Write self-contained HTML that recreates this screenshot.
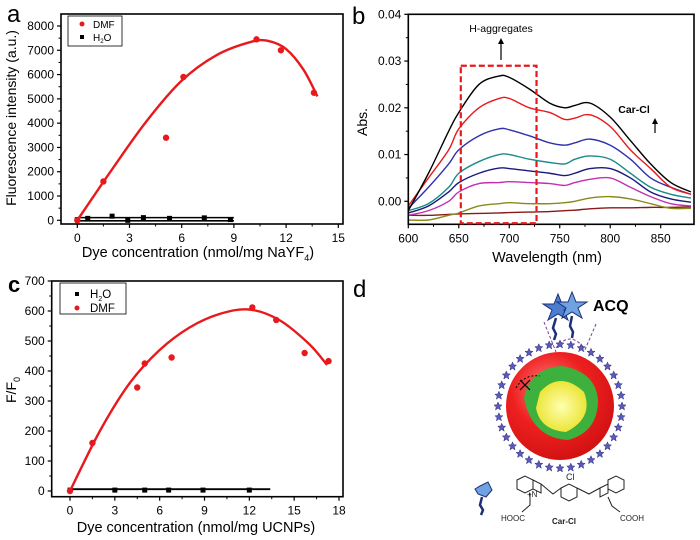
<!DOCTYPE html>
<html><head><meta charset="utf-8"><style>
html,body{margin:0;padding:0;background:#fff;}
svg{display:block;font-family:"Liberation Sans",Arial,sans-serif;}
</style></head><body>
<svg id="fig" width="700" height="540" viewBox="0 0 700 540" xmlns="http://www.w3.org/2000/svg">
<g id="pa"></g>
<g id="pb"></g>
<g id="pc"></g>
<g id="pd">
  <text x="353" y="297" font-size="24">d</text>
  <!-- ACQ stars -->
  <polygon points="558,294 562,304 573,304 564,310 568,320 558,314 548,320 552,310 543,304 554,304" fill="#4a7fd0" stroke="#1d2f7a" stroke-width="1"/>
  <polygon points="572,292 576,302 587,302 578,308 582,318 572,312 562,318 566,308 557,302 568,302" fill="#6ea2e0" stroke="#1d2f7a" stroke-width="1"/>
  <path d="M556,318 l-3,10 l3,6 l-2,6 M572,316 l-2,10 l3,6 l-1,6" stroke="#1d2f7a" stroke-width="2.5" fill="none"/>
  <text x="593" y="311" font-size="16" font-weight="bold">ACQ</text>
  <path d="M544,322 L556,352 M596,324 L584,352 M556,348 Q570,330 584,348" stroke="#7a3fa0" stroke-width="1" stroke-dasharray="3,2" fill="none"/>
  <g id="starring"></g>
  <defs>
    <radialGradient id="rg" cx="0.4" cy="0.35" r="0.7"><stop offset="0" stop-color="#ff8080"/><stop offset="0.5" stop-color="#ee2020"/><stop offset="1" stop-color="#d01010"/></radialGradient>
    <radialGradient id="yg" cx="0.5" cy="0.5" r="0.6"><stop offset="0" stop-color="#ffffb0"/><stop offset="1" stop-color="#e8e020"/></radialGradient>
  </defs>
  <circle cx="560" cy="406" r="54" fill="url(#rg)"/>
  <path d="M524,398 Q530,368 562,366 Q596,372 598,400 Q598,432 568,440 Q532,438 524,398 Z" fill="#3db03d"/>
  <path d="M540,392 Q560,370 584,392 Q594,418 566,432 Q540,430 536,408 Z" fill="url(#yg)"/>
  <path d="M520,380 l10,10 M530,380 l-10,10" stroke="#000" stroke-width="1.2"/>
  <path d="M516,388 Q524,374 540,376" stroke="#000" stroke-dasharray="2,2" fill="none"/>
  <!-- molecule -->
  <polygon points="480,486 488,482 492,490 486,497 478,494 475,489" fill="#6ea2e0" stroke="#1d2f7a"/>
  <path d="M482,497 l-2,8 l3,5 l-2,5" stroke="#1d2f7a" stroke-width="2.5" fill="none"/>
  <g stroke="#222" stroke-width="1" fill="none">
    <polygon points="517,480 525,476 533,480 533,489 525,493 517,489"/>
    <polygon points="533,480 541,484 541,493 533,489"/>
    <path d="M541,484 L553,494 L561,488"/>
    <polygon points="561,488 569,484 577,488 577,497 569,501 561,497"/>
    <path d="M577,488 L589,494 L600,488"/>
    <polygon points="600,488 608,484 608,493 600,497"/>
    <polygon points="608,480 616,476 624,480 624,489 616,493 608,489"/>
    <path d="M530,493 L530,505 L522,512 M608,497 L612,506 L620,512"/>
  </g>
  <text x="566" y="480" font-size="9" fill="#222">Cl</text>
  <text x="527" y="497" font-size="8" fill="#222">+N</text>
  <text x="501" y="521" font-size="8" fill="#222">HOOC</text>
  <text x="552" y="524" font-size="8" font-weight="bold" fill="#222">Car-Cl</text>
  <text x="620" y="521" font-size="8" fill="#222">COOH</text>
</g>
</svg>
<script>
// ---------- Panel a data ----------
const aDmfX = [0, 1.5, 5.1, 6.1, 10.3, 11.7, 13.6];
const aDmfY = [0, 1600, 3400, 5900, 7450, 7000, 5250];
const aFitX = [0, 2, 4, 6, 8, 10, 11, 12, 13, 13.8];
const aFitY = [0, 2100, 4100, 5750, 6800, 7350, 7380, 7050, 6200, 5100];
const aH2oX = [0, 0.6, 2, 2.9, 3.8, 5.3, 7.3, 8.8];
const aH2oY = [30, 80, 170, 0, 110, 80, 100, 30];
const aXTicks = [0, 3, 6, 9, 12, 15];
const aYTicks = [0, 1000, 2000, 3000, 4000, 5000, 6000, 7000, 8000];
// ---------- Panel b data ----------
const bWl = [600,620,640,650,670,690,700,720,740,755,765,780,800,820,840,860,880];
const bBlack  = [-0.002,0.006,0.015,0.019,0.025,0.0268,0.0265,0.024,0.021,0.020,0.0205,0.021,0.018,0.013,0.008,0.004,0.002];
const bRed    = [-0.001,0.005,0.011,0.0155,0.020,0.022,0.022,0.020,0.019,0.0175,0.0178,0.0185,0.016,0.011,0.007,0.003,0.0015];
const bBlue   = [-0.0015,0.003,0.008,0.011,0.014,0.0155,0.0153,0.014,0.0125,0.012,0.0125,0.0133,0.012,0.009,0.005,0.003,0.0015];
const bTeal   = [-0.002,-0.0005,0.003,0.006,0.0085,0.010,0.010,0.009,0.0083,0.008,0.009,0.0097,0.009,0.006,0.003,0.0015,0.0007];
const bNavy   = [-0.0025,-0.001,0.002,0.004,0.006,0.0071,0.007,0.0065,0.006,0.0055,0.006,0.007,0.007,0.005,0.002,0.0005,-0.0002];
const bMag    = [-0.003,-0.002,0.000,0.002,0.0038,0.004,0.0042,0.004,0.0038,0.0034,0.004,0.0047,0.005,0.003,0.001,-0.0005,-0.001];
const bOlive  = [-0.004,-0.004,-0.003,-0.0025,-0.001,-0.0005,-0.0003,-0.0005,-0.0005,-0.0003,0.000,0.0007,0.001,0.0005,-0.0005,-0.0015,-0.0015];
const bDkRed  = [-0.003,-0.003,-0.0028,-0.0027,-0.0026,-0.0025,-0.0024,-0.0023,-0.0022,-0.002,-0.0019,-0.0016,-0.0014,-0.0014,-0.0013,-0.0013,-0.0012];
const bXTicks = [600, 650, 700, 750, 800, 850];
const bYTicks = [0.00, 0.01, 0.02, 0.03, 0.04];
const bYLabels = ["0.00","0.01","0.02","0.03","0.04"];
// ---------- Panel c data ----------
const cDmfX = [0, 1.5, 4.5, 5, 6.8, 12.2, 13.8, 15.7, 17.3];
const cDmfY = [0, 160, 345, 425, 445, 612, 570, 460, 433];
const cFitX = [0, 2, 4, 6, 8, 10, 12, 14, 16, 17.2];
const cFitY = [0, 200, 360, 470, 545, 590, 605, 570, 490, 420];
const cH2oX = [0, 3, 5, 6.6, 8.9, 12];
const cH2oY = [3, 3, 3, 3, 3, 3];
const cXTicks = [0, 3, 6, 9, 12, 15, 18];
const cYTicks = [0, 100, 200, 300, 400, 500, 600, 700];

const NS = "http://www.w3.org/2000/svg";
function mk(parent, tag, attrs, text) {
  const e = document.createElementNS(NS, tag);
  for (const k in attrs) e.setAttribute(k, attrs[k]);
  if (text !== undefined) e.textContent = text;
  parent.appendChild(e);
  return e;
}
function lin(d0, d1, r0, r1) { return v => r0 + (v - d0) * (r1 - r0) / (d1 - d0); }
function smoothPath(xs, ys, sx, sy) {
  const p = xs.map((x, i) => [sx(x), sy(ys[i])]);
  let d = "M" + p[0][0].toFixed(1) + "," + p[0][1].toFixed(1);
  for (let i = 0; i < p.length - 1; i++) {
    const p0 = p[i - 1] || p[i], p1 = p[i], p2 = p[i + 1], p3 = p[i + 2] || p2;
    const c1 = [p1[0] + (p2[0] - p0[0]) / 6, p1[1] + (p2[1] - p0[1]) / 6];
    const c2 = [p2[0] - (p3[0] - p1[0]) / 6, p2[1] - (p3[1] - p1[1]) / 6];
    d += " C" + c1.join(",") + " " + c2.join(",") + " " + p2.join(",");
  }
  return d;
}
function axes(g, box, sx, sy, xt, yt, ylab, fs, minorX, minorY) {
  const fr = mk(g, "rect", {x: box.l, y: box.t, width: box.r - box.l, height: box.b - box.t, fill: "none", stroke: "#000", "stroke-width": 1.6});
  
  
  xt.forEach(v => {
    const x = sx(v);
    mk(g, "line", {x1: x, x2: x, y1: box.b, y2: box.b + 4, stroke: "#000", "stroke-width": 1.2});
    const t = mk(g, "text", {x: x, y: box.b + 18, "font-size": fs, "text-anchor": "middle"}, String(v));
    
    
  });
  if (minorX) xt.slice(0, -1).forEach((v, i) => {
    const x = (sx(v) + sx(xt[i + 1])) / 2;
    mk(g, "line", {x1: x, x2: x, y1: box.b, y2: box.b + 2.5, stroke: "#000"});
  });
  yt.forEach((v, i) => {
    const y = sy(v);
    mk(g, "line", {x1: box.l - 4, x2: box.l, y1: y, y2: y, stroke: "#000", "stroke-width": 1.2});
    const t = mk(g, "text", {x: box.l - 7, y: y + 4, "font-size": fs, "text-anchor": "end"}, ylab ? ylab[i] : String(v));
    
    
  });
  if (minorY) yt.slice(0, -1).forEach((v, i) => {
    const y = (sy(v) + sy(yt[i + 1])) / 2;
    mk(g, "line", {x1: box.l - 2.5, x2: box.l, y1: y, y2: y, stroke: "#000"});
  });
}

// ===== Panel a =====
(function () {
  const g = document.getElementById("pa");
  const box = {l: 61, r: 343, t: 14, b: 224};
  const sx = lin(0, 15, 77.3, 338.3), sy = lin(0, 8000, 220.3, 26);
  axes(g, box, sx, sy, aXTicks, aYTicks, null, 12, true, true);
  const lbl = mk(g, "text", {x: 7, y: 22, "font-size": 24}, "a");
  
  
  const yt = mk(g, "text", {x: 0, y: 0, "font-size": 14, "text-anchor": "middle", transform: "translate(16,118) rotate(-90)"}, "Fluorescence intensity (a.u.)");
  
  
  const xt = mk(g, "text", {x: 198, y: 257, "font-size": 14.5, "text-anchor": "middle"});
  xt.innerHTML = 'Dye concentration (nmol/mg NaYF<tspan font-size="9" dy="4">4</tspan><tspan dy="-4">)</tspan>';
  
  
  // H2O
  const h1 = mk(g, "line", {x1: sx(0), x2: sx(9), y1: sy(110), y2: sy(110), stroke: "#000", "stroke-width": 1.6});
  
  
  const h2 = mk(g, "line", {x1: sx(0), x2: sx(9), y1: sy(-20), y2: sy(-20), stroke: "#000", "stroke-width": 1.6});
  
  
  aH2oX.forEach((x, i) => {
    const r = mk(g, "rect", {x: sx(x) - 2.5, y: sy(aH2oY[i]) - 2.5, width: 5, height: 5, fill: "#000"});
    
    
  });
  const fit = mk(g, "path", {d: smoothPath(aFitX, aFitY, sx, sy), fill: "none", stroke: "#e8191c", "stroke-width": 2.4});
  
  
  aDmfX.forEach((x, i) => {
    const c = mk(g, "circle", {cx: sx(x), cy: sy(aDmfY[i]), r: 3.2, fill: "#e8191c"});
    
    
  });
  const lg = mk(g, "g", {});
  
  
  mk(lg, "rect", {x: 68, y: 16, width: 54, height: 30, fill: "#fff", stroke: "#000", "stroke-width": 0.8});
  mk(lg, "circle", {cx: 82, cy: 24, r: 2.5, fill: "#e8191c"});
  const e1 = mk(lg, "text", {x: 93, y: 28, "font-size": 10}, "DMF");
  
  
  mk(lg, "rect", {x: 80, y: 35, width: 4, height: 4, fill: "#000"});
  const e2 = mk(lg, "text", {x: 93, y: 41, "font-size": 10});
  e2.innerHTML = 'H<tspan font-size="6" dy="2">2</tspan><tspan dy="-2">O</tspan>';
  
  
})();

// ===== Panel b =====
(function () {
  const g = document.getElementById("pb");
  const box = {l: 408.3, r: 694, t: 14.3, b: 224.3};
  const sx = lin(600, 850, 408.3, 660.7), sy = lin(0, 0.04, 201.3, 14.3);
  const clipId = "clipb";
  const defs = mk(g, "defs", {});
  const cp = mk(defs, "clipPath", {id: clipId});
  mk(cp, "rect", {x: box.l, y: box.t, width: box.r - box.l, height: box.b - box.t});
  const series = [[bDkRed, "#8a1a1a", "dark-red"], [bOlive, "#8a8a1a", "olive"], [bMag, "#c030b0", "magenta"], [bNavy, "#1a1a7a", "navy"], [bTeal, "#1a8a8a", "teal"], [bBlue, "#3030b0", "blue"], [bRed, "#e8191c", "red"], [bBlack, "#000", "black"]];
  series.forEach(s => {
    const p = mk(g, "path", {d: smoothPath(bWl, s[0], sx, sy), fill: "none", stroke: s[1], "stroke-width": 1.4, "clip-path": "url(#" + clipId + ")"});
    
    
  });
  axes(g, box, sx, sy, bXTicks, bYTicks, bYLabels, 12, true, true);
  const lbl = mk(g, "text", {x: 352, y: 24, "font-size": 24}, "b");
  
  
  const yt = mk(g, "text", {x: 0, y: 0, "font-size": 14, "text-anchor": "middle", transform: "translate(367,122) rotate(-90)"}, "Abs.");
  
  
  const xt = mk(g, "text", {x: 547, y: 262, "font-size": 14.5, "text-anchor": "middle"}, "Wavelength (nm)");
  
  
  const r = mk(g, "rect", {x: sx(652), y: sy(0.029), width: sx(727) - sx(652), height: sy(-0.0047) - sy(0.029), fill: "none", stroke: "#e8191c", "stroke-width": 2.2, "stroke-dasharray": "6,3"});
  
  
  const ht = mk(g, "text", {x: 501, y: 32, "font-size": 10.5, "text-anchor": "middle"}, "H-aggregates");
  
  
  mk(g, "line", {x1: 501, x2: 501, y1: 60, y2: 43, stroke: "#000", "stroke-width": 1.2});
  mk(g, "polygon", {points: "498,44 504,44 501,38", fill: "#000"});
  const ct = mk(g, "text", {x: 634, y: 113, "font-size": 10.5, "font-weight": "bold", "text-anchor": "middle"}, "Car-Cl");
  
  
  mk(g, "line", {x1: 655, x2: 655, y1: 133, y2: 122, stroke: "#000", "stroke-width": 1.2});
  mk(g, "polygon", {points: "652,124 658,124 655,118", fill: "#000"});
})();

// ===== Panel c =====
(function () {
  const g = document.getElementById("pc");
  const box = {l: 51.7, r: 343, t: 281, b: 496.7};
  const sx = lin(0, 18, 70, 339), sy = lin(0, 700, 491, 281);
  axes(g, box, sx, sy, cXTicks, cYTicks, null, 12, true, true);
  const lbl = mk(g, "text", {x: 8, y: 292, "font-size": 22, "font-weight": "bold"}, "c");
  
  
  const yt = mk(g, "text", {x: 0, y: 0, "font-size": 14, "text-anchor": "middle", transform: "translate(16,390) rotate(-90)"});
  yt.innerHTML = 'F/F<tspan font-size="9" dy="4">0</tspan>';
  
  
  const xt = mk(g, "text", {x: 196, y: 532, "font-size": 14.5, "text-anchor": "middle"}, "Dye concentration (nmol/mg UCNPs)");
  
  
  const hl = mk(g, "line", {x1: sx(0), x2: sx(13.4), y1: sy(6), y2: sy(6), stroke: "#000", "stroke-width": 1.8});
  
  
  cH2oX.forEach((x, i) => {
    const r = mk(g, "rect", {x: sx(x) - 2.5, y: sy(cH2oY[i]) - 2.5, width: 5, height: 5, fill: "#000"});
    
    
  });
  const fit = mk(g, "path", {d: smoothPath(cFitX, cFitY, sx, sy), fill: "none", stroke: "#e8191c", "stroke-width": 2.4});
  
  
  cDmfX.forEach((x, i) => {
    const c = mk(g, "circle", {cx: sx(x), cy: sy(cDmfY[i]), r: 3.2, fill: "#e8191c"});
    
    
  });
  const lg = mk(g, "g", {});
  
  
  mk(lg, "rect", {x: 60, y: 283, width: 66, height: 31, fill: "#fff", stroke: "#000", "stroke-width": 0.8});
  mk(lg, "rect", {x: 75, y: 292, width: 4, height: 4, fill: "#000"});
  const e1 = mk(lg, "text", {x: 90, y: 298, "font-size": 11.5});
  e1.innerHTML = 'H<tspan font-size="7" dy="3">2</tspan><tspan dy="-3">O</tspan>';
  
  
  mk(lg, "circle", {cx: 77, cy: 308, r: 2.5, fill: "#e8191c"});
  const e2 = mk(lg, "text", {x: 90, y: 312, "font-size": 11.5}, "DMF");
  
  
})();

// surface dye ring for panel d
(function () {
  const g = document.getElementById("starring");
  for (let i = 0; i < 36; i++) {
    const a = i / 36 * Math.PI * 2;
    const x = 560 + Math.cos(a) * 62, y = 406 + Math.sin(a) * 62;
    const s = mk(g, "polygon", {points: "0,-4 1.2,-1.2 4,-1 1.8,1 2.5,4 0,2.2 -2.5,4 -1.8,1 -4,-1 -1.2,-1.2", fill: "#5a5ab8", stroke: "#2a2a80", "stroke-width": 0.5, transform: "translate(" + x.toFixed(1) + "," + y.toFixed(1) + ")"});
    
    
  }
})();
</script>
</body></html>
